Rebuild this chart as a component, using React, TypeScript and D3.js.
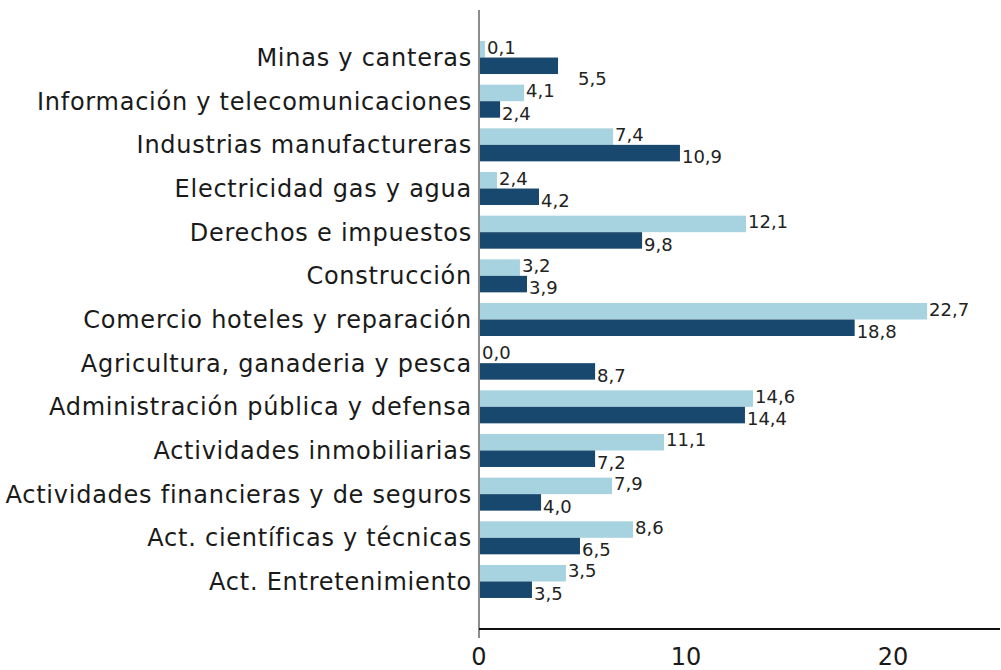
import { useEffect, useRef } from 'react';
import * as d3 from 'd3';

// categories top to bottom
const categories = [
  'Minas y canteras',
  'Información y telecomunicaciones',
  'Industrias manufactureras',
  'Electricidad gas y agua',
  'Derechos e impuestos',
  'Construcción',
  'Comercio hoteles y reparación',
  'Agricultura, ganaderia y pesca',
  'Administración pública y defensa',
  'Actividades inmobiliarias',
  'Actividades financieras y de seguros',
  'Act. científicas y técnicas',
  'Act. Entretenimiento',
];

// bar lengths as drawn
const lightValues = [0.24, 2.13, 6.43, 0.82, 12.85, 1.93, 21.6, 0, 13.19, 8.89, 6.38, 7.39, 4.15];
const darkValues = [3.77, 0.97, 9.66, 2.85, 7.83, 2.27, 18.1, 5.56, 12.8, 5.56, 2.95, 4.83, 2.51];

// data labels as printed on the chart
const lightLabels = ['0,1', '4,1', '7,4', '2,4', '12,1', '3,2', '22,7', '0,0', '14,6', '11,1', '7,9', '8,6', '3,5'];
const darkLabels = ['5,5', '2,4', '10,9', '4,2', '9,8', '3,9', '18,8', '8,7', '14,4', '7,2', '4,0', '6,5', '3,5'];

const xTicks = [0, 10, 20];

const LIGHT = '#a6d3df';
const DARK = '#18486d';
const FONT = '"DejaVu Sans", sans-serif';

const BarChart = ({ width = 1001, height = 670 }) => {
  const svgRef = useRef(null);

  useEffect(() => {
    const svg = d3.select(svgRef.current);
    svg.selectAll('*').remove();

    const x0 = 479;
    const xScale = d3.scaleLinear()
      .domain([0, (1000 - x0) / 20.7])
      .range([x0, 1000]);

    const yScale = d3.scaleBand()
      .domain(categories)
      .range([35.7, 603.3])
      .paddingInner(0.244)
      .paddingOuter(0.122);

    const half = yScale.bandwidth() / 2;

    // light series
    svg.append('g')
      .selectAll('rect')
      .data(categories)
      .enter()
      .append('rect')
      .attr('x', xScale(0) + 1)
      .attr('y', d => yScale(d))
      .attr('width', (d, i) => Math.max(0, xScale(lightValues[i]) - xScale(0)))
      .attr('height', half)
      .attr('fill', LIGHT);

    // dark series
    svg.append('g')
      .selectAll('rect')
      .data(categories)
      .enter()
      .append('rect')
      .attr('x', xScale(0) + 1)
      .attr('y', d => yScale(d) + half)
      .attr('width', (d, i) => Math.max(0, xScale(darkValues[i]) - xScale(0)))
      .attr('height', half)
      .attr('fill', DARK);

    // value labels (the first dark one sits off to the right in the original)
    const nudge = { 'Minas y canteras': [18, 9] };
    const labels = svg.append('g')
      .style('font-family', FONT)
      .style('font-size', '18px')
      .attr('fill', '#222');

    categories.forEach((c, i) => {
      labels.append('text')
        .attr('x', xScale(lightValues[i]) + 3)
        .attr('y', yScale(c) + half - 4)
        .text(lightLabels[i]);
      const n = nudge[c] || [0, 0];
      labels.append('text')
        .attr('x', xScale(darkValues[i]) + 3 + n[0])
        .attr('y', yScale(c) + 2 * half + 2 + n[1])
        .text(darkLabels[i]);
    });

    // category labels
    svg.append('g')
      .selectAll('text')
      .data(categories)
      .enter()
      .append('text')
      .attr('x', 472)
      .attr('y', d => yScale(d) + half)
      .attr('dy', '0.36em')
      .attr('text-anchor', 'end')
      .style('font-family', FONT)
      .style('font-size', '24px')
      .style('letter-spacing', '0.75px')
      .attr('fill', '#1a1a1a')
      .text(d => d);

    // axes
    svg.append('line')
      .attr('x1', x0).attr('x2', x0)
      .attr('y1', 10).attr('y2', 638)
      .attr('stroke', '#666')
      .attr('stroke-width', 1.5);

    svg.append('line')
      .attr('x1', x0).attr('x2', 1000)
      .attr('y1', 629).attr('y2', 629)
      .attr('stroke', '#111')
      .attr('stroke-width', 2);

    svg.append('g')
      .selectAll('text')
      .data(xTicks)
      .enter()
      .append('text')
      .attr('x', d => xScale(d))
      .attr('y', 665)
      .attr('text-anchor', 'middle')
      .style('font-family', FONT)
      .style('font-size', '24px')
      .attr('fill', '#1a1a1a')
      .text(d => d);
  }, [width, height]);

  return (
    <svg
      ref={svgRef}
      width={width}
      height={height}
      style={{ position: 'absolute', left: 0, top: 0, background: '#fff' }}
    />
  );
};

export default function App() {
  return <BarChart />;
}
